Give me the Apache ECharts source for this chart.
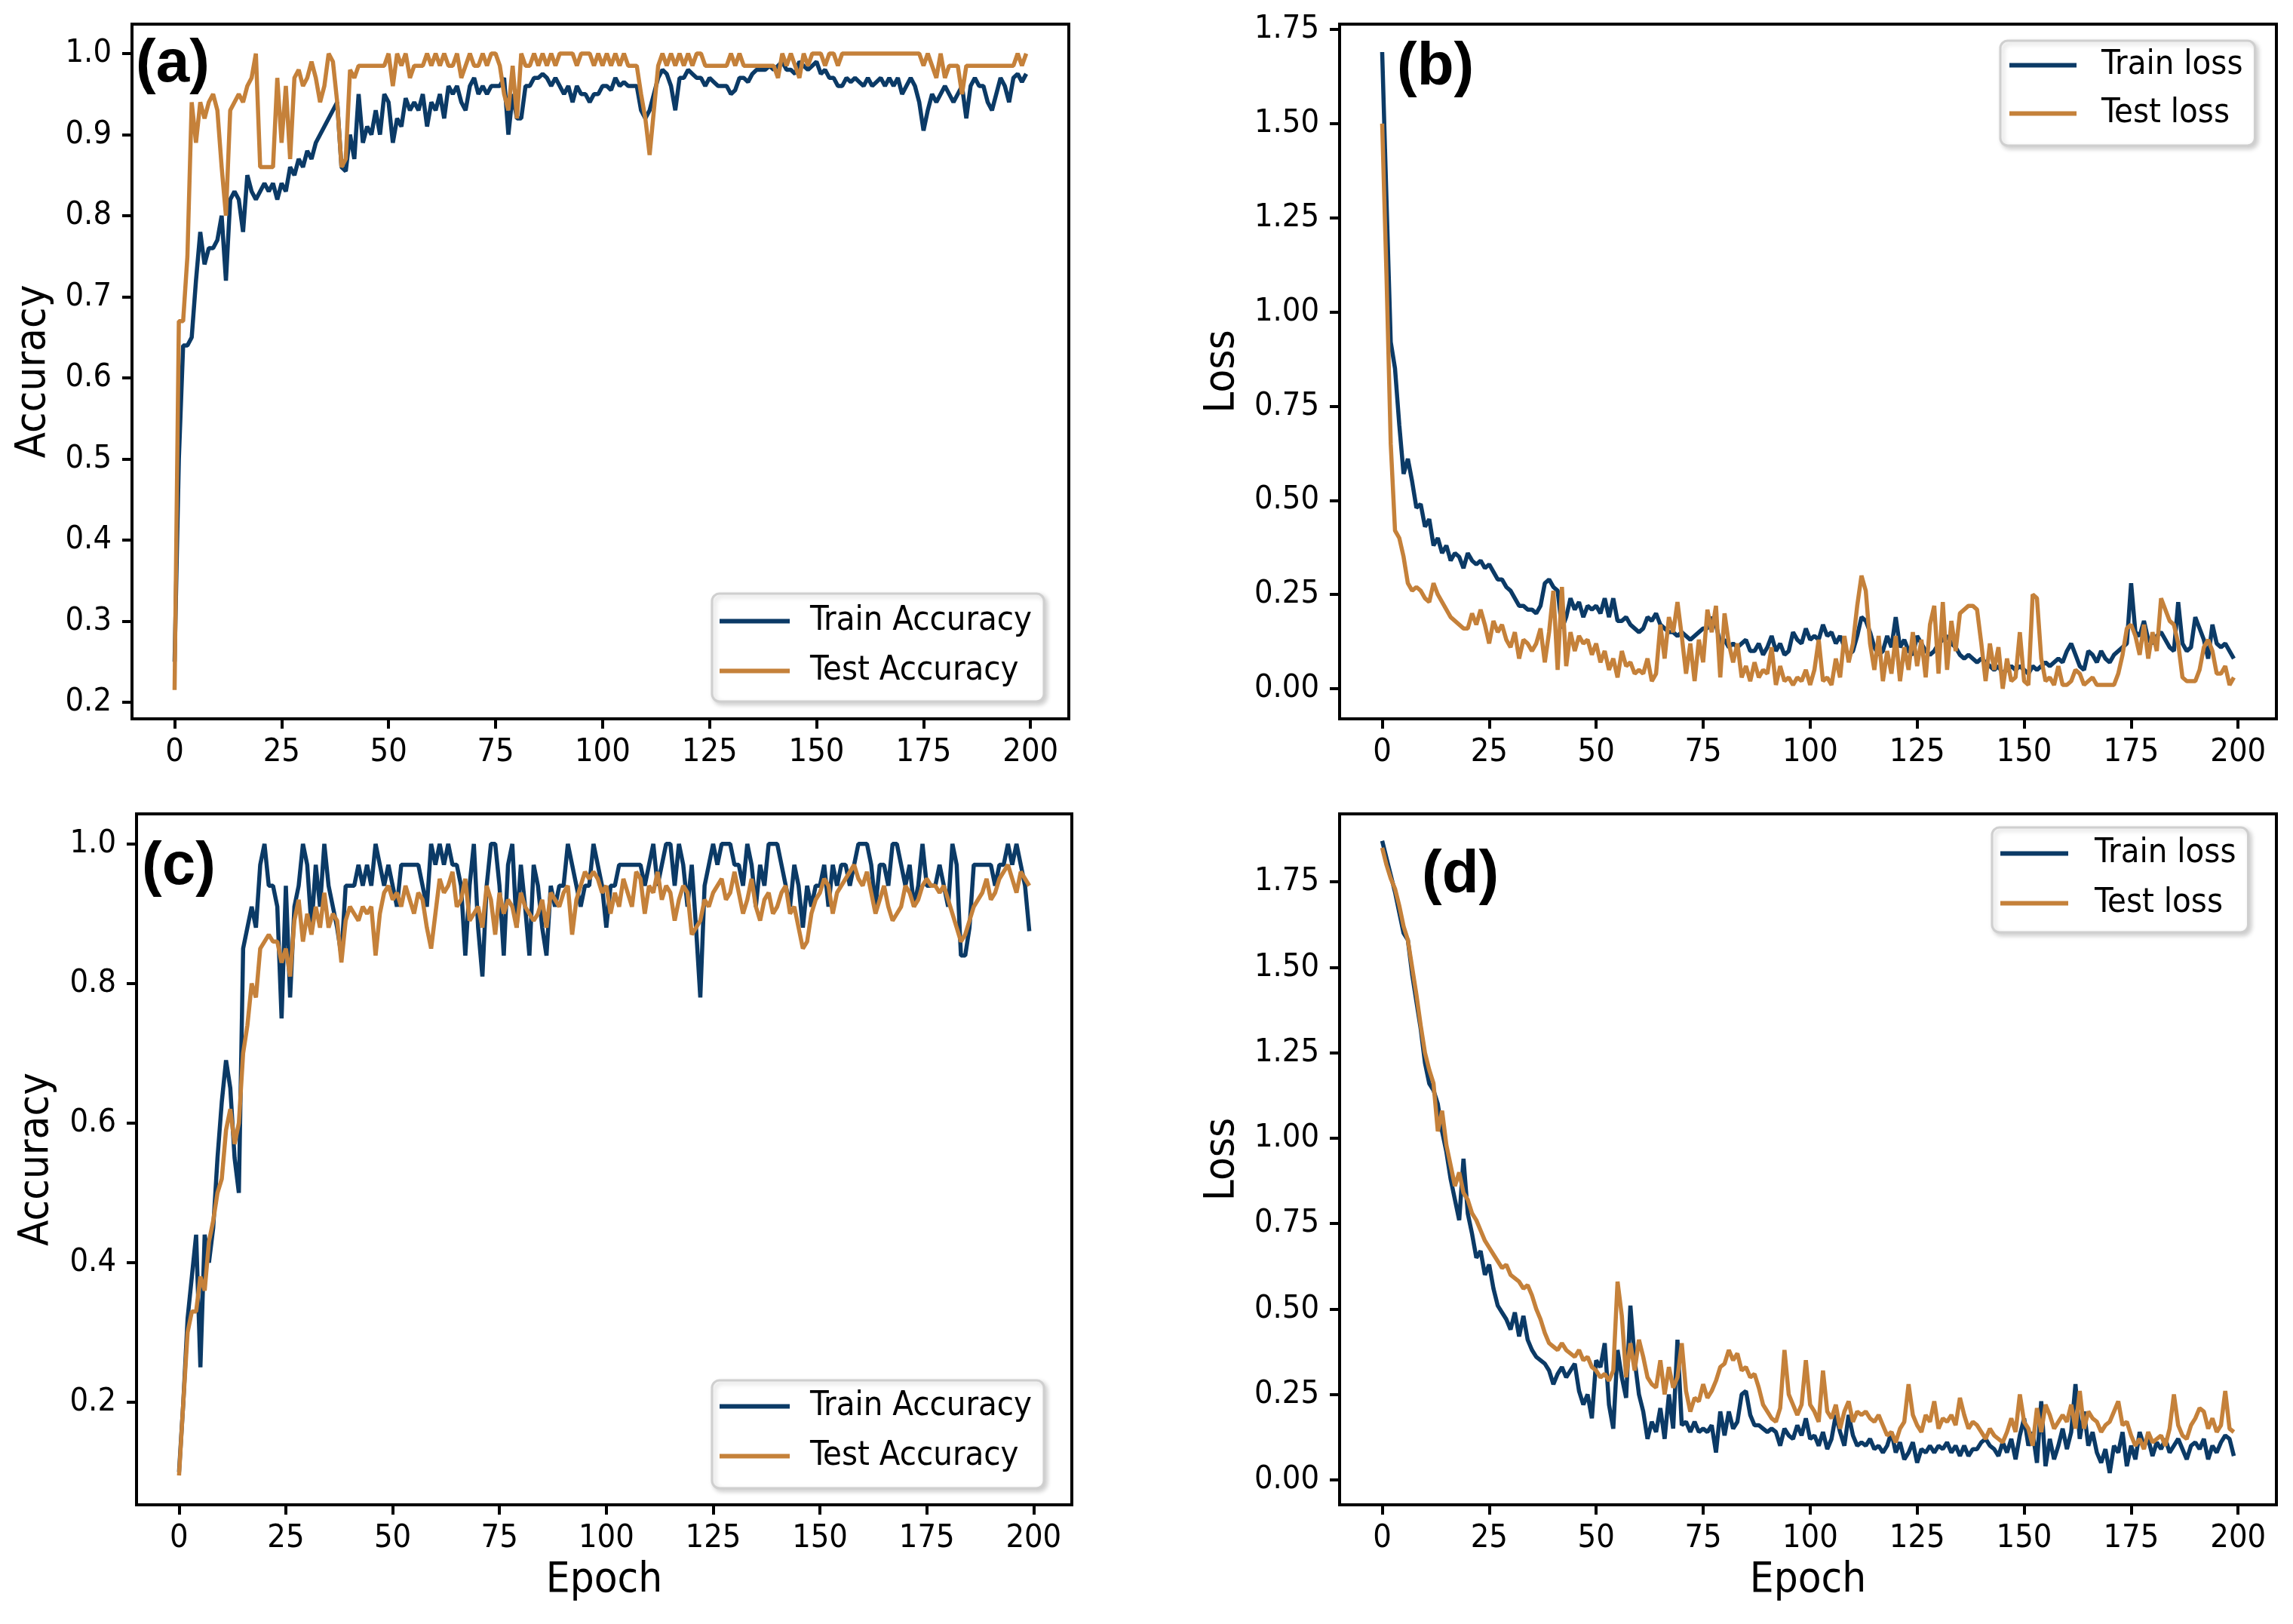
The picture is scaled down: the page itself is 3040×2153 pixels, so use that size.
<!DOCTYPE html>
<html><head><meta charset="utf-8">
<script src="https://cdn.jsdelivr.net/npm/echarts@6/dist/echarts.min.js"></script>
<style>html,body{margin:0;padding:0;background:#fff}#c{width:3040px;height:2153px}</style>
</head><body><div id="c"></div>
<script>
const epochs = Array.from({length: 200}, (_, i) => i);
const xTicks = [0,25,50,75,100,125,150,175,200];
const accTicksA = [0.2,0.3,0.4,0.5,0.6,0.7,0.8,0.9,1.0];
const accTicksC = [0.2,0.4,0.6,0.8,1.0];
const lossTicks = [0,0.25,0.5,0.75,1.0,1.25,1.5,1.75];
const panelLabels = ['(a)','(b)','(c)','(d)'];

const trainAccA = [
0.25,0.50,0.64,0.64,0.65,0.72,0.78,0.74,0.76,0.76,
0.77,0.80,0.72,0.82,0.83,0.82,0.78,0.85,0.83,0.82,
0.83,0.84,0.83,0.84,0.82,0.84,0.83,0.86,0.85,0.87,
0.86,0.88,0.87,0.89,0.90,0.91,0.92,0.93,0.94,0.86,
0.855,0.90,0.87,0.95,0.89,0.91,0.90,0.93,0.90,0.95,
0.94,0.89,0.92,0.91,0.945,0.93,0.94,0.93,0.95,0.91,
0.94,0.93,0.95,0.92,0.96,0.95,0.96,0.94,0.93,0.96,
0.97,0.95,0.96,0.95,0.96,0.96,0.96,0.97,0.90,0.95,
0.92,0.92,0.96,0.96,0.97,0.97,0.975,0.97,0.96,0.97,
0.96,0.95,0.96,0.94,0.96,0.95,0.95,0.94,0.95,0.95,
0.96,0.96,0.955,0.97,0.96,0.965,0.96,0.96,0.96,0.93,
0.92,0.93,0.95,0.97,0.98,0.975,0.96,0.93,0.97,0.97,
0.98,0.975,0.97,0.97,0.96,0.97,0.965,0.96,0.96,0.96,
0.95,0.955,0.97,0.97,0.965,0.975,0.98,0.98,0.98,0.985,
0.98,0.985,0.99,0.98,0.98,0.975,0.99,0.985,0.98,0.985,
0.99,0.975,0.98,0.97,0.97,0.96,0.96,0.97,0.965,0.97,
0.965,0.96,0.97,0.96,0.965,0.97,0.96,0.97,0.96,0.97,
0.95,0.96,0.97,0.96,0.94,0.905,0.93,0.95,0.94,0.95,
0.96,0.95,0.94,0.95,0.96,0.92,0.96,0.97,0.96,0.96,
0.94,0.93,0.95,0.97,0.96,0.94,0.97,0.975,0.965,0.975];

const testAccA = [
0.215,0.67,0.67,0.75,0.94,0.89,0.94,0.92,0.94,0.95,
0.93,0.86,0.80,0.93,0.94,0.95,0.94,0.96,0.97,1.0,
0.86,0.86,0.86,0.86,0.97,0.89,0.96,0.87,0.97,0.98,
0.96,0.97,0.99,0.97,0.94,0.96,1.0,0.99,0.94,0.86,
0.87,0.98,0.97,0.985,0.985,0.985,0.985,0.985,0.985,0.985,
1.0,0.96,1.0,0.985,1.0,0.97,0.985,0.985,0.985,1.0,
0.985,1.0,0.985,1.0,0.985,0.985,1.0,0.97,0.985,1.0,
0.985,0.985,1.0,0.985,1.0,1.0,0.985,0.95,0.93,0.985,
0.92,1.0,0.985,0.985,1.0,0.985,1.0,0.985,1.0,0.985,
1.0,1.0,1.0,1.0,0.985,1.0,1.0,1.0,0.985,1.0,
0.985,1.0,0.985,1.0,0.985,1.0,0.985,0.985,0.985,0.95,
0.92,0.875,0.93,0.985,1.0,0.985,1.0,0.985,1.0,0.985,
1.0,0.985,1.0,1.0,0.985,0.985,0.985,0.985,0.985,0.985,
1.0,0.985,1.0,0.985,0.985,0.985,0.985,0.985,0.985,0.985,
0.985,0.97,1.0,0.985,1.0,0.985,0.97,1.0,0.985,1.0,
1.0,1.0,0.985,1.0,1.0,0.985,1.0,1.0,1.0,1.0,
1.0,1.0,1.0,1.0,1.0,1.0,1.0,1.0,1.0,1.0,
1.0,1.0,1.0,1.0,1.0,0.985,1.0,0.985,0.97,1.0,
0.97,0.985,0.985,0.985,0.95,0.985,0.985,0.985,0.985,0.985,
0.985,0.985,0.985,0.985,0.985,0.985,0.985,1.0,0.985,1.0];

const trainLossB = [
1.69,1.30,0.92,0.85,0.70,0.57,0.61,0.55,0.48,0.49,
0.43,0.45,0.38,0.40,0.36,0.38,0.34,0.36,0.35,0.32,
0.36,0.34,0.33,0.34,0.32,0.33,0.31,0.29,0.29,0.27,
0.26,0.24,0.22,0.22,0.21,0.21,0.20,0.22,0.28,0.29,
0.27,0.26,0.16,0.19,0.24,0.21,0.23,0.19,0.22,0.21,
0.22,0.20,0.24,0.19,0.24,0.18,0.18,0.19,0.17,0.16,
0.15,0.16,0.19,0.18,0.20,0.17,0.16,0.15,0.15,0.14,
0.15,0.14,0.13,0.14,0.15,0.16,0.16,0.19,0.17,0.12,
0.13,0.11,0.12,0.11,0.12,0.13,0.10,0.10,0.12,0.09,
0.11,0.14,0.10,0.12,0.09,0.10,0.15,0.13,0.12,0.16,
0.13,0.14,0.13,0.17,0.14,0.15,0.12,0.14,0.11,0.09,
0.10,0.14,0.19,0.18,0.15,0.11,0.09,0.10,0.14,0.11,
0.19,0.11,0.13,0.10,0.09,0.14,0.12,0.10,0.09,0.10,
0.12,0.13,0.14,0.12,0.11,0.09,0.08,0.09,0.08,0.07,
0.08,0.07,0.06,0.05,0.06,0.04,0.05,0.06,0.05,0.06,
0.05,0.04,0.06,0.05,0.06,0.07,0.06,0.07,0.08,0.07,
0.10,0.12,0.09,0.06,0.05,0.10,0.09,0.07,0.10,0.08,
0.07,0.09,0.10,0.11,0.12,0.28,0.15,0.14,0.18,0.13,
0.12,0.14,0.15,0.13,0.11,0.10,0.23,0.12,0.10,0.11,
0.19,0.16,0.13,0.08,0.17,0.12,0.11,0.12,0.10,0.08];

const testLossB = [
1.50,1.10,0.65,0.42,0.40,0.35,0.28,0.26,0.27,0.26,
0.24,0.23,0.28,0.25,0.23,0.21,0.19,0.18,0.17,0.16,
0.16,0.20,0.17,0.21,0.17,0.12,0.18,0.15,0.17,0.13,
0.11,0.15,0.08,0.13,0.12,0.10,0.12,0.16,0.07,0.15,
0.26,0.05,0.27,0.06,0.15,0.10,0.14,0.12,0.13,0.09,
0.12,0.07,0.10,0.05,0.08,0.03,0.10,0.06,0.07,0.04,
0.05,0.04,0.08,0.02,0.04,0.17,0.08,0.19,0.15,0.23,
0.14,0.04,0.12,0.02,0.13,0.07,0.21,0.15,0.22,0.03,
0.20,0.12,0.07,0.12,0.03,0.06,0.02,0.07,0.03,0.05,
0.04,0.11,0.01,0.06,0.02,0.03,0.01,0.03,0.02,0.05,
0.01,0.05,0.13,0.02,0.03,0.01,0.08,0.03,0.14,0.07,
0.12,0.22,0.30,0.26,0.12,0.05,0.14,0.02,0.10,0.04,
0.14,0.02,0.11,0.05,0.15,0.06,0.13,0.03,0.17,0.22,
0.04,0.23,0.05,0.18,0.10,0.20,0.21,0.22,0.22,0.21,
0.12,0.02,0.12,0.05,0.11,0.00,0.08,0.02,0.03,0.15,
0.02,0.01,0.25,0.24,0.08,0.02,0.03,0.01,0.06,0.01,
0.01,0.02,0.05,0.04,0.01,0.02,0.03,0.01,0.01,0.01,
0.01,0.01,0.04,0.09,0.16,0.17,0.14,0.09,0.17,0.08,
0.15,0.10,0.24,0.21,0.18,0.17,0.12,0.03,0.02,0.02,
0.02,0.05,0.11,0.13,0.10,0.04,0.04,0.06,0.01,0.03];

const trainAccC = [
0.10,0.20,0.32,0.38,0.44,0.25,0.44,0.40,0.45,0.55,
0.63,0.69,0.65,0.55,0.50,0.85,0.88,0.91,0.88,0.97,
1.00,0.94,0.94,0.91,0.75,0.94,0.78,0.91,0.94,1.00,
0.97,0.88,0.97,0.91,1.00,0.94,0.91,0.88,0.84,0.94,
0.94,0.94,0.97,0.94,0.97,0.94,1.00,0.97,0.94,0.97,
0.94,0.91,0.97,0.97,0.97,0.97,0.97,0.94,0.91,1.00,
0.97,1.00,0.97,1.00,0.97,0.97,0.94,0.84,0.94,1.00,
0.88,0.81,0.94,1.00,1.00,0.94,0.84,0.97,1.00,0.88,
0.97,0.91,0.84,0.97,0.94,0.88,0.84,0.94,0.91,0.94,
0.94,1.00,0.97,0.94,0.91,0.94,0.94,1.00,0.97,0.94,
0.88,0.94,0.94,0.97,0.97,0.97,0.97,0.97,0.97,0.94,
0.97,1.00,0.94,0.97,1.00,1.00,0.94,1.00,0.97,0.91,
0.97,0.88,0.78,0.94,0.97,1.00,0.97,1.00,1.00,1.00,
0.97,0.97,0.94,1.00,0.97,0.91,0.97,0.94,1.00,1.00,
1.00,0.97,0.94,0.91,0.97,0.94,0.88,0.94,0.91,0.94,
0.94,0.97,0.91,0.97,0.94,0.97,0.97,0.94,0.97,1.00,
1.00,1.00,0.97,0.91,0.97,0.97,0.94,1.00,1.00,0.97,
0.94,0.97,0.91,0.94,1.00,0.94,0.94,0.94,0.97,0.94,
0.91,1.00,0.97,0.84,0.84,0.88,0.97,0.97,0.97,0.97,
0.97,0.94,0.97,0.97,1.00,0.97,1.00,0.97,0.94,0.875];

const testAccC = [
0.095,0.20,0.30,0.33,0.33,0.38,0.36,0.43,0.46,0.50,
0.52,0.59,0.62,0.57,0.60,0.70,0.74,0.80,0.78,0.85,
0.86,0.87,0.86,0.86,0.83,0.85,0.81,0.89,0.92,0.86,
0.90,0.87,0.91,0.88,0.93,0.88,0.90,0.89,0.83,0.89,
0.91,0.90,0.89,0.91,0.90,0.91,0.84,0.90,0.93,0.94,
0.92,0.93,0.91,0.94,0.92,0.90,0.93,0.92,0.88,0.85,
0.90,0.95,0.93,0.94,0.96,0.91,0.92,0.95,0.89,0.90,
0.91,0.88,0.94,0.92,0.87,0.93,0.90,0.92,0.91,0.88,
0.93,0.91,0.90,0.89,0.90,0.92,0.88,0.93,0.92,0.91,
0.93,0.94,0.87,0.92,0.94,0.96,0.95,0.96,0.95,0.93,
0.94,0.90,0.93,0.91,0.95,0.93,0.91,0.96,0.95,0.90,
0.94,0.93,0.96,0.92,0.94,0.93,0.89,0.92,0.94,0.93,
0.87,0.88,0.89,0.92,0.91,0.93,0.94,0.95,0.92,0.93,
0.96,0.93,0.90,0.92,0.95,0.91,0.89,0.92,0.93,0.90,
0.91,0.93,0.94,0.90,0.91,0.88,0.85,0.86,0.90,0.92,
0.93,0.95,0.94,0.90,0.93,0.94,0.95,0.96,0.97,0.95,
0.94,0.96,0.93,0.90,0.92,0.94,0.91,0.89,0.90,0.91,
0.94,0.93,0.91,0.92,0.94,0.95,0.94,0.94,0.93,0.94,
0.92,0.90,0.88,0.86,0.87,0.89,0.91,0.92,0.93,0.95,
0.92,0.93,0.95,0.96,0.97,0.95,0.93,0.96,0.95,0.94];

const trainLossD = [
1.87,1.82,1.77,1.72,1.66,1.60,1.58,1.48,1.40,1.32,
1.22,1.16,1.14,1.10,1.02,0.96,0.88,0.82,0.76,0.94,
0.78,0.72,0.65,0.67,0.60,0.63,0.56,0.51,0.49,0.47,
0.44,0.49,0.42,0.48,0.41,0.38,0.36,0.35,0.34,0.32,
0.28,0.31,0.33,0.30,0.32,0.34,0.26,0.22,0.25,0.18,
0.35,0.33,0.40,0.22,0.15,0.38,0.30,0.24,0.51,0.35,
0.25,0.20,0.12,0.17,0.14,0.21,0.12,0.25,0.15,0.41,
0.16,0.17,0.14,0.17,0.14,0.15,0.14,0.16,0.08,0.20,
0.13,0.20,0.15,0.17,0.25,0.26,0.19,0.16,0.16,0.15,
0.14,0.15,0.14,0.10,0.15,0.13,0.12,0.16,0.13,0.18,
0.12,0.13,0.10,0.14,0.09,0.12,0.19,0.14,0.10,0.19,
0.13,0.10,0.11,0.10,0.12,0.09,0.10,0.08,0.10,0.14,
0.08,0.11,0.06,0.08,0.11,0.05,0.09,0.08,0.10,0.08,
0.10,0.09,0.11,0.08,0.10,0.07,0.10,0.07,0.09,0.09,
0.11,0.12,0.10,0.09,0.07,0.11,0.08,0.12,0.06,0.13,
0.18,0.10,0.14,0.05,0.23,0.04,0.12,0.06,0.10,0.15,
0.09,0.14,0.28,0.12,0.20,0.10,0.14,0.08,0.05,0.09,
0.02,0.10,0.08,0.14,0.04,0.10,0.06,0.14,0.10,0.12,
0.07,0.11,0.09,0.12,0.08,0.10,0.12,0.09,0.06,0.10,
0.11,0.09,0.12,0.06,0.10,0.08,0.11,0.13,0.12,0.07];

const testLossD = [
1.85,1.80,1.76,1.73,1.68,1.62,1.58,1.50,1.42,1.33,
1.25,1.20,1.16,1.02,1.08,0.98,0.92,0.86,0.90,0.84,
0.82,0.78,0.76,0.73,0.70,0.68,0.66,0.64,0.62,0.63,
0.60,0.59,0.58,0.56,0.57,0.54,0.50,0.47,0.43,0.40,
0.39,0.38,0.40,0.38,0.37,0.36,0.38,0.35,0.36,0.33,
0.32,0.30,0.31,0.29,0.32,0.58,0.48,0.30,0.40,0.32,
0.41,0.36,0.30,0.28,0.27,0.35,0.25,0.33,0.27,0.30,
0.40,0.26,0.20,0.24,0.23,0.28,0.24,0.26,0.29,0.33,
0.34,0.38,0.35,0.37,0.32,0.33,0.30,0.31,0.27,0.22,
0.20,0.18,0.17,0.21,0.38,0.25,0.22,0.19,0.22,0.35,
0.22,0.20,0.17,0.32,0.20,0.18,0.22,0.15,0.20,0.23,
0.17,0.20,0.19,0.20,0.18,0.17,0.19,0.16,0.13,0.14,
0.11,0.15,0.17,0.28,0.19,0.16,0.14,0.19,0.17,0.23,
0.15,0.18,0.17,0.19,0.16,0.24,0.19,0.15,0.17,0.16,
0.14,0.12,0.15,0.13,0.12,0.11,0.14,0.18,0.14,0.25,
0.17,0.15,0.10,0.21,0.14,0.22,0.19,0.15,0.17,0.19,
0.17,0.22,0.15,0.26,0.15,0.20,0.18,0.17,0.14,0.16,
0.17,0.20,0.23,0.16,0.17,0.13,0.10,0.12,0.09,0.14,
0.11,0.12,0.13,0.10,0.15,0.25,0.16,0.13,0.12,0.16,
0.18,0.21,0.20,0.15,0.18,0.14,0.16,0.26,0.15,0.14];

const FONT = "'DejaVu Sans Condensed', 'DejaVu Sans', sans-serif";
const TRAIN = '#0b3a66';
const TEST = '#c5813a';

const grids = [
  {left:175, top:32, width:1242, height:921},
  {left:1776, top:32, width:1242, height:921},
  {left:181, top:1079, width:1240, height:916},
  {left:1776, top:1079, width:1242, height:916}
].map(g => Object.assign({show:true, borderColor:'#000', borderWidth:4, backgroundColor:'#fff'}, g));

function xAx(gi, withName) {
  return {
    type:'value', gridIndex:gi, min:-9.95, max:208.95,
    splitLine:{show:false},
    axisLine:{show:true, onZero:false, lineStyle:{color:'#000', width:4}},
    axisTick:{show:true, customValues:xTicks, length:13, lineStyle:{color:'#000', width:4}},
    axisLabel:{customValues:xTicks, fontSize:43, color:'#000', fontFamily:FONT, margin:23},
    name: withName ? 'Epoch' : '', nameLocation:'middle', nameGap:72,
    nameTextStyle:{fontSize:56, fontFamily:FONT, color:'#000'}
  };
}
function yAx(gi, min, max, ticks, dec, name, gap) {
  return {
    type:'value', gridIndex:gi, min:min, max:max,
    splitLine:{show:false},
    axisLine:{show:true, onZero:false, lineStyle:{color:'#000', width:4}},
    axisTick:{show:true, customValues:ticks, length:13, lineStyle:{color:'#000', width:4}},
    axisLabel:{customValues:ticks, fontSize:43, color:'#000', fontFamily:FONT, margin:27,
      formatter: v => Number(v).toFixed(dec)},
    name:name, nameLocation:'middle', nameGap:gap,
    nameTextStyle:{fontSize:56, fontFamily:FONT, color:'#000'}
  };
}
function line(name, vals, color, gi) {
  return {
    type:'line', name:name, xAxisIndex:gi, yAxisIndex:gi,
    data: vals.map((v, i) => [epochs[i], v]),
    showSymbol:false, symbol:'none', animation:false,
    lineStyle:{color:color, width:5.5}, itemStyle:{color:color}
  };
}
function legendAt(left, top, names, pad, itemW, gap, textPad) {
  return {
    left:left, top:top, orient:'vertical', data:names, selectedMode:false,
    icon:'rect', itemWidth:itemW, itemHeight:6, itemGap:gap, padding:pad,
    backgroundColor:'#fff', borderColor:'#cfcfcf', borderWidth:3, borderRadius:10,
    shadowColor:'rgba(0,0,0,0.18)', shadowBlur:6, shadowOffsetX:3, shadowOffsetY:3,
    textStyle:{fontSize:45, fontFamily:FONT, color:'#000', padding:[0,0,0,textPad]}
  };
}
const labelPos = [[180,46],[1852,50],[188,1110],[1885,1121]];

const option = {
  backgroundColor:'#fff',
  animation:false,
  title: panelLabels.map((t, i) => ({
    text:t, left:labelPos[i][0], top:labelPos[i][1], padding:0,
    textStyle:{fontSize:80, fontWeight:'bold', fontFamily:"'Liberation Sans', Arial, sans-serif", color:'#000'}
  })),
  grid: grids,
  xAxis: [xAx(0,false), xAx(1,false), xAx(2,true), xAx(3,true)],
  yAxis: [
    yAx(0, 0.1795, 1.0363, accTicksA, 1, 'Accuracy', 103),
    yAx(1, -0.080, 1.764, lossTicks, 2, 'Loss', 128),
    yAx(2, 0.053, 1.043, accTicksC, 1, 'Accuracy', 105),
    yAx(3, -0.073, 1.949, lossTicks, 2, 'Loss', 128)
  ],
  legend: [
    legendAt(944, 787, ['Train Accuracy','Test Accuracy'], [14,16,18,10], 93, 21, 22),
    legendAt(2652, 54, ['Train loss','Test loss'], [10,16,20,12], 89, 19, 28),
    legendAt(944, 1830, ['Train Accuracy','Test Accuracy'], [12,16,20,10], 93, 21, 22),
    legendAt(2641, 1097, ['Train loss','Test loss'], [12,16,16,11], 90, 21, 30)
  ],
  series: [
    line('Train Accuracy', trainAccA, TRAIN, 0),
    line('Test Accuracy', testAccA, TEST, 0),
    line('Train loss', trainLossB, TRAIN, 1),
    line('Test loss', testLossB, TEST, 1),
    line('Train Accuracy', trainAccC, TRAIN, 2),
    line('Test Accuracy', testAccC, TEST, 2),
    line('Train loss', trainLossD, TRAIN, 3),
    line('Test loss', testLossD, TEST, 3)
  ]
};
const chart = echarts.init(document.getElementById('c'), null, {renderer:'canvas'});
chart.setOption(option);
</script></body></html>
